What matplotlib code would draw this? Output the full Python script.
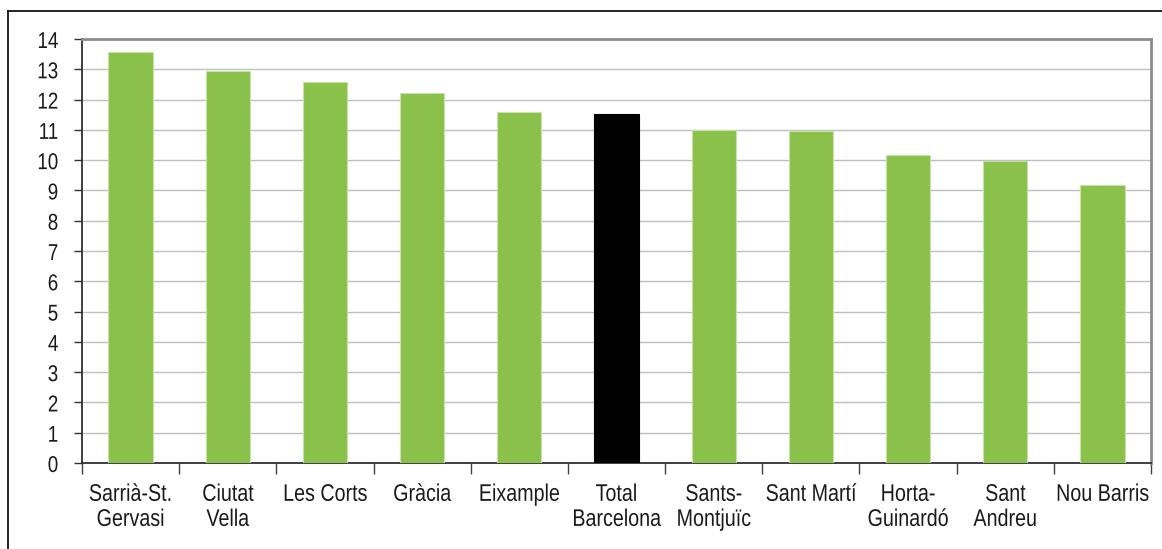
import matplotlib.pyplot as plt
from matplotlib.lines import Line2D
from matplotlib.patheffects import AbstractPathEffect
from matplotlib.transforms import Affine2D
import numpy as np

plt.rcParams["font.family"] = ["Liberation Sans", "DejaVu Sans"]

districts = [
    "Sarrià-St.\nGervasi", "Ciutat\nVella", "Les Corts", "Gràcia", "Eixample",
    "Total\nBarcelona", "Sants-\nMontjuïc", "Sant Martí", "Horta-\nGuinardó",
    "Sant\nAndreu", "Nou Barris",
]
values = [13.56, 12.94, 12.57, 12.22, 11.58, 11.52, 10.99, 10.97, 10.18, 9.96, 9.19]
highlight = "Total\nBarcelona"
y_ticks = list(range(0, 15))

green = "#8AC14A"
text_col = "#1a1a1a"


class Narrow(AbstractPathEffect):
    """Squeeze text glyphs horizontally, keeping the given anchor in place."""

    def __init__(self, factor=0.82, anchor="center"):
        super().__init__()
        self.factor = factor
        self.anchor = anchor

    def draw_path(self, renderer, gc, tpath, affine, rgbFace=None):
        ext = tpath.get_extents()
        cx = ext.x1 if self.anchor == "right" else 0.5 * (ext.x0 + ext.x1)
        squeeze = Affine2D().translate(-cx, 0).scale(self.factor, 1).translate(cx, 0)
        renderer.draw_path(gc, tpath, squeeze + affine, rgbFace)


fig = plt.figure(figsize=(11.62, 5.49), dpi=100)
ax = fig.add_axes([82 / 1162, 1 - 463 / 549, (1151 - 82) / 1162, (463 - 39) / 549])

x = np.arange(len(districts))
colors = ["black" if d == highlight else green for d in districts]
edges = ["black" if d == highlight else "#C8E3A8" for d in districts]
ax.bar(x, values, width=0.455, color=colors, edgecolor=edges, linewidth=0.8, zorder=3)

ax.set_xlim(-0.5, len(districts) - 0.5)
ax.set_ylim(0, 14)
ax.set_yticks(y_ticks)
ax.yaxis.grid(True, color="#BFBFBF", linewidth=1.0, zorder=0)

ax.set_xticks(x)
ax.set_xticklabels(districts, fontsize=17.3, color=text_col, linespacing=1.18)
ax.tick_params(axis="x", which="major", length=0, pad=15)
ax.set_xticks(np.arange(-0.5, len(districts)), minor=True)
ax.tick_params(axis="x", which="minor", length=8, width=1.0, color="#404040")
ax.tick_params(axis="y", length=6, width=1.0, color="#303030", labelsize=16.5,
               labelcolor=text_col, pad=11)

for lbl in ax.get_xticklabels():
    lbl.set_path_effects([Narrow(0.82, "center")])
for lbl in ax.get_yticklabels():
    lbl.set_path_effects([Narrow(0.82, "right")])

for side in ("left", "bottom"):
    ax.spines[side].set_color("#303030")
    ax.spines[side].set_linewidth(1.3)
for side in ("top", "right"):
    ax.spines[side].set_color("#8C8C8C")
    ax.spines[side].set_linewidth(2.0)

# outer chart frame
fig.add_artist(Line2D([8 / 1162, 1.0], [1 - 11 / 549, 1 - 11 / 549],
                      color="black", linewidth=1.2, transform=fig.transFigure))
fig.add_artist(Line2D([8 / 1162, 8 / 1162], [1 - 11 / 549, 0.0],
                      color="black", linewidth=1.2, transform=fig.transFigure))

fig.savefig("out.png", dpi=100)
